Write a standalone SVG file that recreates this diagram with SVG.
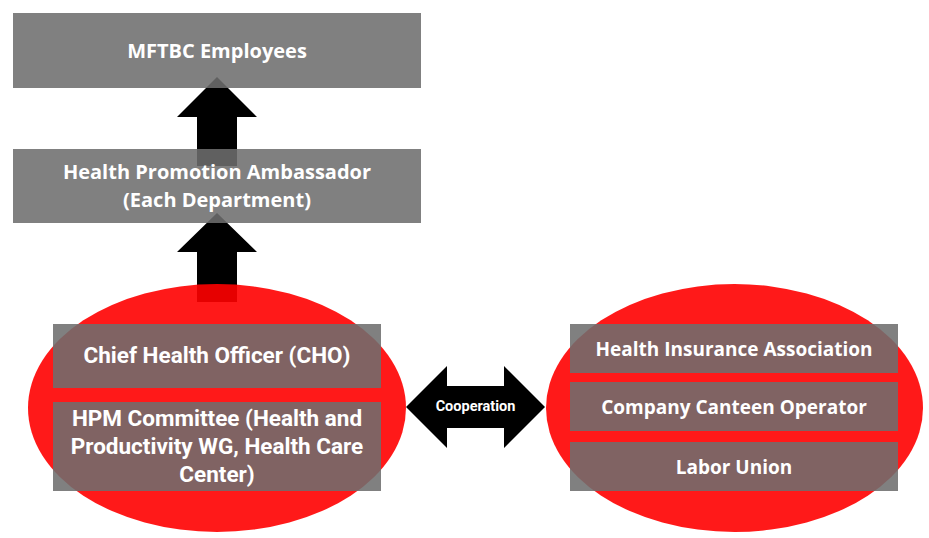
<svg xmlns="http://www.w3.org/2000/svg" width="929" height="538" viewBox="0 0 929 538">
<style>
.box{fill:#6e6e6e;fill-opacity:0.875}
.oval{fill:#ff0000;fill-opacity:0.9}
.arr{fill:#000}
.t{fill:#fff;font-family:"Open Sans","Liberation Sans",sans-serif;font-weight:bold;font-size:20px;text-anchor:middle}
.s{fill:#fff;font-family:"Open Sans","Liberation Sans",sans-serif;font-weight:bold;font-size:19px;text-anchor:middle}
.r{fill:#fff;font-family:Roboto,"Liberation Sans",sans-serif;font-weight:bold;font-size:22.5px;text-anchor:middle}
.c{fill:#fff;font-family:Roboto,"Liberation Sans",sans-serif;font-weight:bold;font-size:14.5px;text-anchor:middle}
</style>
<g id="connectors">
<polygon class="arr" points="217,77 257,117 237,117 237,166 197,166 197,117 177,117"/>
<polygon class="arr" points="217,213 257,252 237,252 237,302 197,302 197,252 177,252"/>
<polygon class="arr" points="406,407 447,366 447,386 504,386 504,366 545,407 504,448 504,428 447,428 447,448"/>
<text class="c" x="475.5" y="411">Cooperation</text>
</g>
<g id="employees">
<rect class="box" x="13" y="13" width="408" height="75"/>
<text class="t" x="217" y="58">MFTBC Employees</text>
</g>
<g id="ambassador">
<rect class="box" x="13" y="149" width="408" height="74"/>
<text class="t" x="217" y="179">Health Promotion Ambassador</text>
<text class="t" x="217" y="207">(Each Department)</text>
</g>
<g id="internal">
<ellipse class="oval" cx="217" cy="408" rx="189" ry="124"/>
<g id="cho">
<rect class="box" x="53" y="324" width="328" height="64"/>
<text class="r" x="217" y="363">Chief Health Officer (CHO)</text>
</g>
<g id="hpm">
<rect class="box" x="53" y="402" width="328" height="89"/>
<text class="r" x="217" y="426">HPM Committee (Health and</text>
<text class="r" x="217" y="454">Productivity WG, Health Care</text>
<text class="r" x="217" y="482">Center)</text>
</g>
</g>
<g id="external">
<ellipse class="oval" cx="734.5" cy="408" rx="188.5" ry="124"/>
<g id="hia">
<rect class="box" x="570" y="324" width="328" height="49"/>
<text class="s" x="734" y="356">Health Insurance Association</text>
</g>
<g id="canteen">
<rect class="box" x="570" y="382" width="328" height="49"/>
<text class="s" x="734" y="414">Company Canteen Operator</text>
</g>
<g id="union">
<rect class="box" x="570" y="442" width="328" height="49"/>
<text class="s" x="734" y="474">Labor Union</text>
</g>
</g>
</svg>
